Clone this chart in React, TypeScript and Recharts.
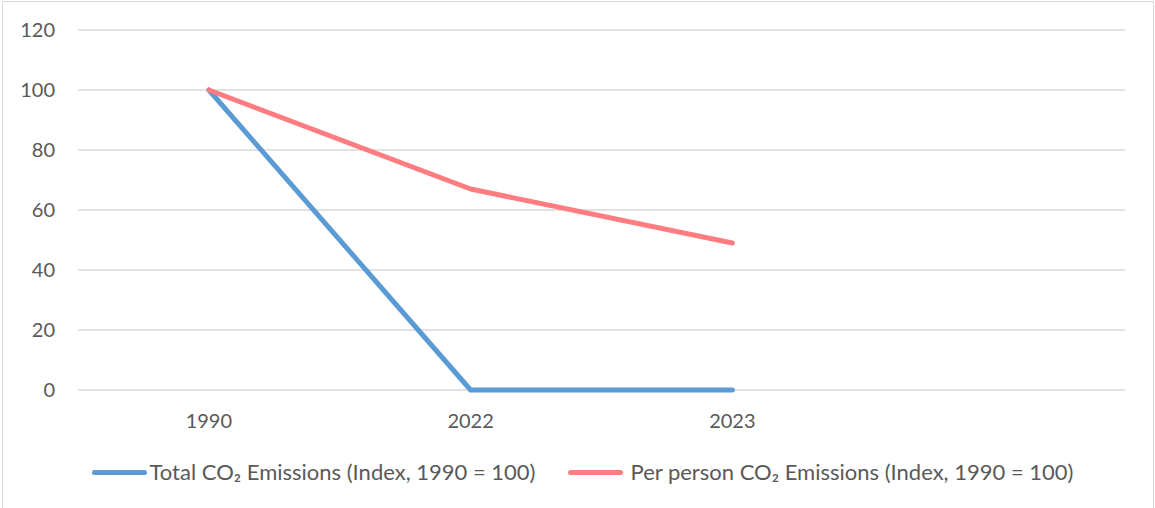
import React from "react";
import { CartesianGrid, Legend, Line, LineChart, XAxis, YAxis } from "recharts";

const years = ["1990", "2022", "2023", ""];
const totalIndex: (number | null)[] = [100, 0, 0, null];
const perPersonIndex: (number | null)[] = [100, 67, 49, null];
const yTicks = [0, 20, 40, 60, 80, 100, 120];

const TOTAL_NAME = "Total CO\u2082 Emissions (Index, 1990 = 100)";
const PER_PERSON_NAME = "Per person CO\u2082 Emissions (Index, 1990 = 100)";

const data = years.map((year, i) => ({
	year,
	total: totalIndex[i],
	perPerson: perPersonIndex[i],
}));

const FONT = "Lato, 'Liberation Sans', sans-serif";
const TEXT = "#595959";

const CustomLegend = () => {
	const items = [
		{ name: TOTAL_NAME, color: "#5B9BD5", gap: 3 },
		{ name: PER_PERSON_NAME, color: "#FF7C80", gap: 8 },
	];
	return (
		<div
			style={{
				display: "flex",
				justifyContent: "center",
				gap: 32,
				fontFamily: FONT,
				fontSize: 22,
				lineHeight: "26px",
				color: TEXT,
				paddingLeft: 10,
			}}
		>
			{items.map((it) => (
				<div key={it.name} style={{ display: "flex", alignItems: "center" }}>
					<span
						style={{
							display: "inline-block",
							width: 55,
							height: 5,
							borderRadius: 3,
							background: it.color,
							marginRight: it.gap,
						}}
					/>
					<span>{it.name}</span>
				</div>
			))}
		</div>
	);
};

export default function App() {
	return (
		<div
			style={{
				position: "absolute",
				left: 0,
				top: 0,
				width: 1155,
				height: 508,
				background: "#fff",
				overflow: "hidden",
			}}
		>
			<div
				style={{
					position: "absolute",
					left: 2,
					top: 1,
					width: 1150,
					height: 520,
					border: "1px solid #d9d9d9",
				}}
			/>
			<LineChart
				width={1155}
				height={508}
				data={data}
				margin={{ top: 30, right: 30, left: 0, bottom: 68 }}
			>
				<CartesianGrid vertical={false} stroke="#d9d9d9" strokeWidth={1.5} />
				<XAxis
					dataKey="year"
					scale="band"
					axisLine={false}
					tickLine={false}
					tickSize={0}
					tickMargin={24}
					height={50}
					tick={{ fill: TEXT, fontSize: 20, fontFamily: FONT }}
				/>
				<YAxis
					width={78}
					domain={[0, 120]}
					ticks={yTicks}
					axisLine={false}
					tickLine={false}
					tickSize={0}
					tickMargin={23}
					tick={{ fill: TEXT, fontSize: 20, fontFamily: FONT }}
				/>
				<Legend
					verticalAlign="bottom"
					content={<CustomLegend />}
					wrapperStyle={{ top: 459, left: 0, width: 1155, height: 0 }}
				/>
				<Line
					dataKey="total"
					name={TOTAL_NAME}
					stroke="#5B9BD5"
					strokeWidth={5}
					strokeLinecap="round"
					strokeLinejoin="round"
					dot={false}
					activeDot={false}
					isAnimationActive={false}
				/>
				<Line
					dataKey="perPerson"
					name={PER_PERSON_NAME}
					stroke="#FF7C80"
					strokeWidth={5}
					strokeLinecap="round"
					strokeLinejoin="round"
					dot={false}
					activeDot={false}
					isAnimationActive={false}
				/>
			</LineChart>
		</div>
	);
}
